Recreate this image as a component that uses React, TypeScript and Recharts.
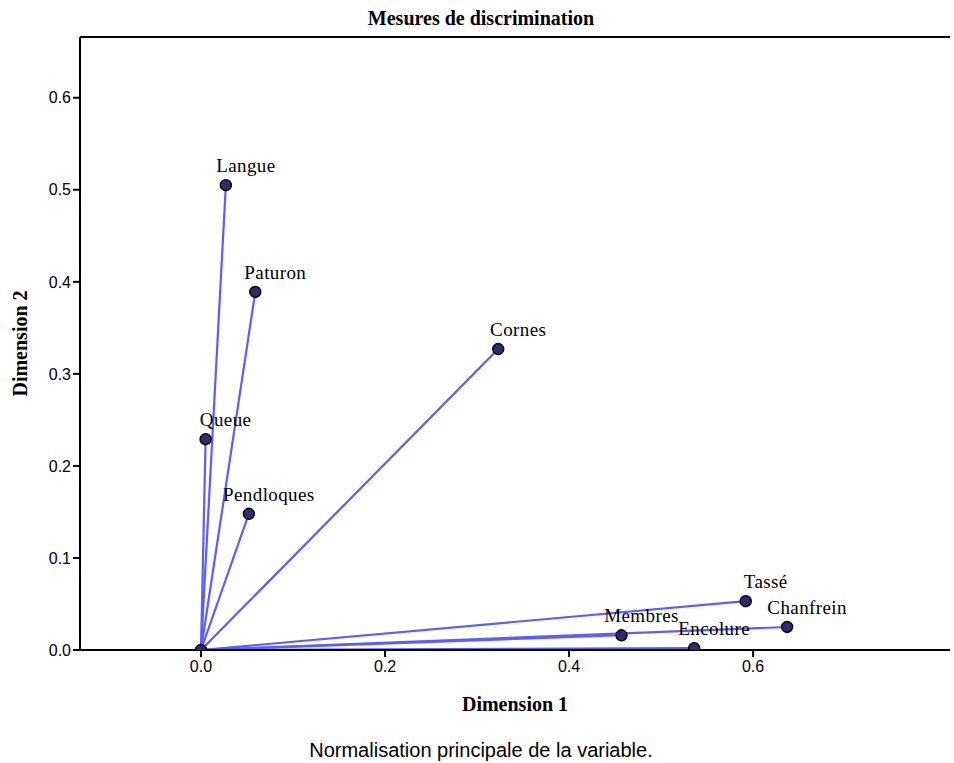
import * as React from 'react'
import {
    ScatterChart,
    Scatter,
    XAxis,
    YAxis,
    ReferenceLine,
} from 'recharts'

// discrimination measures
const variables = ['Langue', 'Paturon', 'Cornes', 'Queue', 'Pendloques', 'Tassé', 'Chanfrein', 'Membres', 'Encolure']
const dim1 = [0.027, 0.059, 0.323, 0.005, 0.052, 0.592, 0.637, 0.457, 0.536]
const dim2 = [0.505, 0.389, 0.327, 0.229, 0.148, 0.053, 0.025, 0.016, 0.002]

const xTicks = [0, 0.2, 0.4, 0.6]
const yTicks = [0, 0.1, 0.2, 0.3, 0.4, 0.5, 0.6]
const xDomain = [-0.1315, 0.814]
const yDomain = [0, 0.666]

const points = variables.map((name, i) => ({ name, x: dim1[i], y: dim2[i] }))
const origin = [{ name: '', x: 0, y: 0 }]

const LINE = '#5c5cff'
const DOT = '#2b2e6e'
const serif = '"Liberation Serif", "Times New Roman", serif'
const sans = '"Liberation Sans", Arial, sans-serif'

const Dot = (props: any) => {
    const { cx, cy, payload } = props
    return (
        <g>
            <circle cx={cx} cy={cy} r={5.5} fill={DOT} stroke="#000" strokeWidth={1.4} />
            {payload.name ? (
                <text x={cx + 20} y={cy - 13} textAnchor="middle" fontFamily={serif} fontSize={19} letterSpacing={0.4} fill="#000">
                    {payload.name}
                </text>
            ) : null}
        </g>
    )
}

const YTitle = (props: any) => {
    const { viewBox } = props
    const cx = 20
    const cy = viewBox.y + viewBox.height / 2
    return (
        <text x={cx} y={cy} transform={`rotate(-90, ${cx}, ${cy})`} textAnchor="middle" dominantBaseline="central"
            fontFamily={serif} fontWeight="bold" fontSize={20} fill="#000">
            Dimension 2
        </text>
    )
}

export default function App() {
    const tick = { fontFamily: sans, fontSize: 16, fill: '#000' }
    return (
        <div style={{ position: 'absolute', left: 0, top: 0, width: 954, height: 763, background: '#fff' }}>
            <div style={{ position: 'absolute', left: 0, top: 7, width: 962, textAlign: 'center', fontFamily: serif, fontWeight: 'bold', fontSize: 20 }}>
                Mesures de discrimination
            </div>
            <ScatterChart width={954} height={763} margin={{ top: 37, right: 4, left: 0, bottom: 0 }}>
                <XAxis type="number" dataKey="x" domain={xDomain} ticks={xTicks} allowDataOverflow
                    tickFormatter={(v: number) => v.toFixed(1)} height={113} tick={tick}
                    stroke="#000" strokeWidth={2} tickSize={7} tickMargin={4}
                    label={{ value: 'Dimension 1', position: 'insideTop', offset: 47, style: { fontFamily: serif, fontWeight: 'bold', fontSize: 20, fill: '#000' } }} />
                <YAxis type="number" dataKey="y" domain={yDomain} ticks={yTicks} allowDataOverflow
                    tickFormatter={(v: number) => v.toFixed(1)} width={80} tick={tick}
                    stroke="#000" strokeWidth={2} tickSize={7} tickMargin={2}
                    label={<YTitle />} />
                <ReferenceLine y={yDomain[1]} stroke="#000" strokeWidth={2} />
                {points.map((p) => (
                    <ReferenceLine key={p.name} segment={[{ x: 0, y: 0 }, { x: p.x, y: p.y }]} stroke={LINE} strokeWidth={2.2} />
                ))}
                <Scatter data={origin} shape={<Dot />} isAnimationActive={false} />
                <Scatter data={points} shape={<Dot />} isAnimationActive={false} />
            </ScatterChart>
            <div style={{ position: 'absolute', left: 0, top: 739, width: 962, textAlign: 'center', fontFamily: sans, fontSize: 20 }}>
                Normalisation principale de la variable.
            </div>
        </div>
    )
}
